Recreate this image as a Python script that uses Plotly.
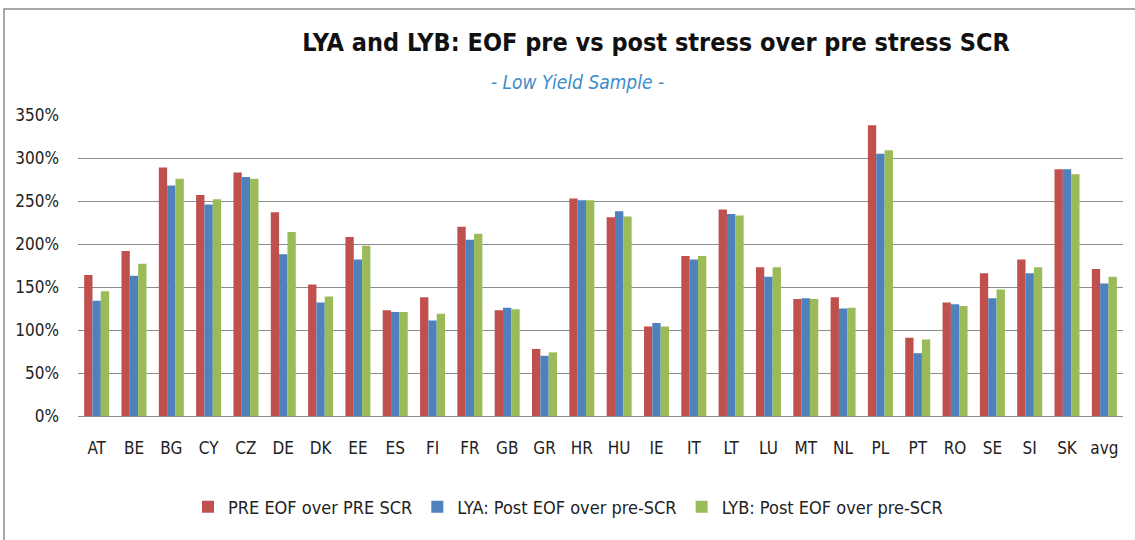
import plotly.graph_objects as go

categories = ["AT", "BE", "BG", "CY", "CZ", "DE", "DK", "EE", "ES", "FI", "FR", "GB", "GR", "HR",
              "HU", "IE", "IT", "LT", "LU", "MT", "NL", "PL", "PT", "RO", "SE", "SI", "SK", "avg"]

pre_eof = [164, 192, 289, 257, 283, 237, 153, 208, 123, 138, 220, 123, 78, 253,
           231, 104, 186, 240, 173, 136, 138, 338, 91, 132, 166, 182, 287, 171]
lya_post = [134, 163, 268, 246, 278, 188, 132, 182, 121, 111, 205, 126, 70, 251,
            238, 108, 182, 235, 162, 137, 125, 305, 73, 130, 137, 166, 287, 154]
lyb_post = [145, 177, 276, 252, 276, 214, 139, 198, 121, 119, 212, 124, 74, 251,
            232, 104, 186, 233, 173, 136, 126, 309, 89, 128, 147, 173, 281, 162]

series_names = ["PRE EOF over PRE SCR", "LYA: Post EOF over pre-SCR", "LYB: Post EOF over pre-SCR"]
series_values = [pre_eof, lya_post, lyb_post]
series_colors = ["#C0504D", "#4F81BD", "#9BBB59"]

title_text = "LYA and LYB: EOF pre vs post stress over pre stress SCR"
subtitle_text = "- Low Yield Sample -"

FONT = "DejaVu Sans Condensed"

fig = go.Figure()
for name, vals, col in zip(series_names, series_values, series_colors):
    fig.add_trace(go.Bar(x=categories, y=vals, name=name, marker_color=col,
                         marker_line_width=0))

W, H = 1135, 540
L, R, T, B = 78, 12, 115, 124
pw, ph = W - L - R, H - T - B

def px_x(x):
    return (x - L) / pw

def px_y(y):
    return (H - B - y) / ph

fig.update_layout(
    width=W, height=H,
    margin=dict(l=L, r=R, t=T, b=B, autoexpand=False),
    paper_bgcolor="white", plot_bgcolor="white",
    barmode="group", bargap=0.33, bargroupgap=0,
    font=dict(family=FONT, size=17, color="#222222"),
    title=dict(text="<b>" + title_text + "</b>", xref="container", yref="container",
               x=656 / W, y=1 - 42 / H, xanchor="center", yanchor="middle",
               font=dict(family=FONT, size=25, color="#111111")),
    legend=dict(orientation="h", x=px_x(188), y=px_y(507), xref="paper", yref="paper",
                xanchor="left", yanchor="middle", font=dict(family=FONT, size=18, color="#222222"),
                itemwidth=30, traceorder="normal"),
    showlegend=True,
)

fig.add_annotation(text="<i>" + subtitle_text + "</i>", xref="paper", yref="paper",
                   x=px_x(577), y=px_y(82), showarrow=False, xanchor="center", yanchor="middle",
                   font=dict(family=FONT, size=19, color="#3C8DC8"))

fig.update_yaxes(range=[0, 350], dtick=50, ticksuffix="%", showgrid=True, automargin=False,
                 gridcolor="#8c8c8c", gridwidth=1, zeroline=False, showline=False,
                 ticklabelstandoff=18, tickfont=dict(size=17, color="#222222"))
fig.update_xaxes(showgrid=False, showline=True, linecolor="#8c8c8c", linewidth=1, automargin=False,
                 ticks="", ticklabelstandoff=17, tickfont=dict(size=17, color="#222222"))

fig.add_shape(type="rect", xref="paper", yref="paper",
              x0=px_x(4), x1=px_x(1145), y0=px_y(560), y1=px_y(9),
              line=dict(color="#8c8c8c", width=1.5), fillcolor="rgba(0,0,0,0)", layer="below")

fig.write_html("out.html", config={"displayModeBar": False},
               post_script="document.body.style.margin='0';")
